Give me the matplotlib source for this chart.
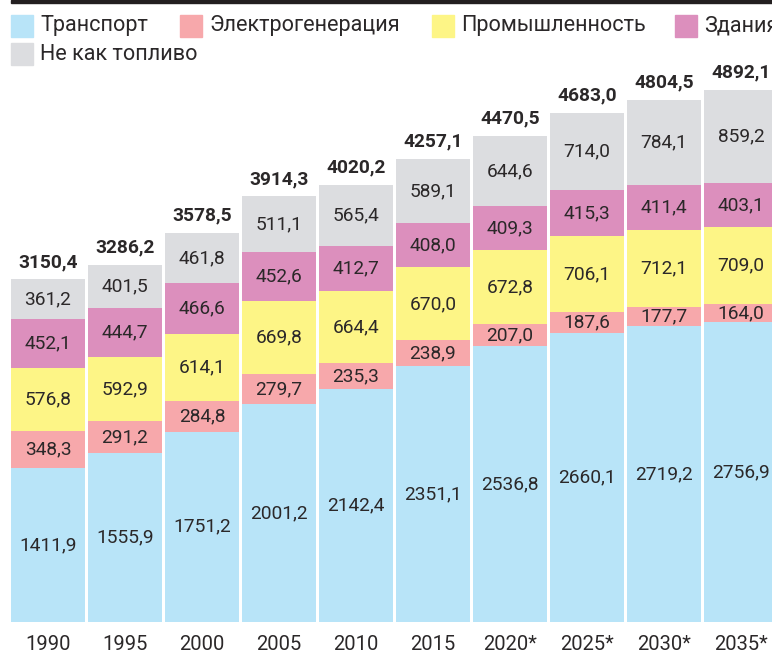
import matplotlib.pyplot as plt
from matplotlib.patches import Rectangle

years = ['1990', '1995', '2000', '2005', '2010', '2015', '2020*', '2025*', '2030*', '2035*']
transport = [1411.9, 1555.9, 1751.2, 2001.2, 2142.4, 2351.1, 2536.8, 2660.1, 2719.2, 2756.9]
power = [348.3, 291.2, 284.8, 279.7, 235.3, 238.9, 207.0, 187.6, 177.7, 164.0]
industry = [576.8, 592.9, 614.1, 669.8, 664.4, 670.0, 672.8, 706.1, 712.1, 709.0]
buildings = [452.1, 444.7, 466.6, 452.6, 412.7, 408.0, 409.3, 415.3, 411.4, 403.1]
nonfuel = [361.2, 401.5, 461.8, 511.1, 565.4, 589.1, 644.6, 714.0, 784.1, 859.2]
totals = [3150.4, 3286.2, 3578.5, 3914.3, 4020.2, 4257.1, 4470.5, 4683.0, 4804.5, 4892.1]

names = ['Транспорт', 'Электрогенерация', 'Промышленность', 'Здания', 'Не как топливо']
colors = ['#b8e4f8', '#f7a8ab', '#fdf586', '#dc8fbd', '#dcdde0']
series = [transport, power, industry, buildings, nonfuel]

txt = '#2b2829'
plt.rcParams['font.family'] = ['Roboto', 'DejaVu Sans']

fig = plt.figure(figsize=(7.72, 6.54), dpi=100)
ax = fig.add_axes([0, 32 / 654, 1, 552 / 654])

x = list(range(len(years)))
bottom = [0.0] * len(years)
for vals, col in zip(series, colors):
    ax.bar(x, vals, width=0.961, bottom=bottom, color=col, linewidth=0)
    for i, v in enumerate(vals):
        ax.text(i, bottom[i] + v / 2, f'{v:.1f}'.replace('.', ','),
                ha='center', va='center', fontsize=13.8, color=txt)
    bottom = [b + v for b, v in zip(bottom, vals)]

for i, t in enumerate(totals):
    ax.text(i, bottom[i] + 75, f'{t:.1f}'.replace('.', ','),
            ha='center', va='bottom', fontsize=13.8, fontweight='bold', color=txt)

ax.set_xlim(-48 / 77, 724 / 77)
ax.set_ylim(0, 5076)
ax.set_xticks(x)
ax.set_xticklabels(years, fontsize=14.5, color=txt)
ax.tick_params(axis='x', length=0, pad=9)
ax.set_yticks([])
for s in ax.spines.values():
    s.set_visible(False)

# top rule
fig.patches.append(Rectangle((11 / 772, 1 - 3 / 654), 1, 3 / 654,
                             transform=fig.transFigure, color='#231f20', zorder=5))

# legend, placed by hand
legend_pos = [(11, 26), (180, 26), (432, 26), (675, 26), (11, 54)]
for (px, py), name, col in zip(legend_pos, names, colors):
    fig.patches.append(Rectangle((px / 772, 1 - (py + 11) / 654), 22 / 772, 22 / 654,
                                 transform=fig.transFigure, color=col))
    fig.text((px + 29) / 772, 1 - py / 654, name, fontsize=15.6, color=txt,
             va='center', ha='left')

fig.savefig('out.png', dpi=100)
